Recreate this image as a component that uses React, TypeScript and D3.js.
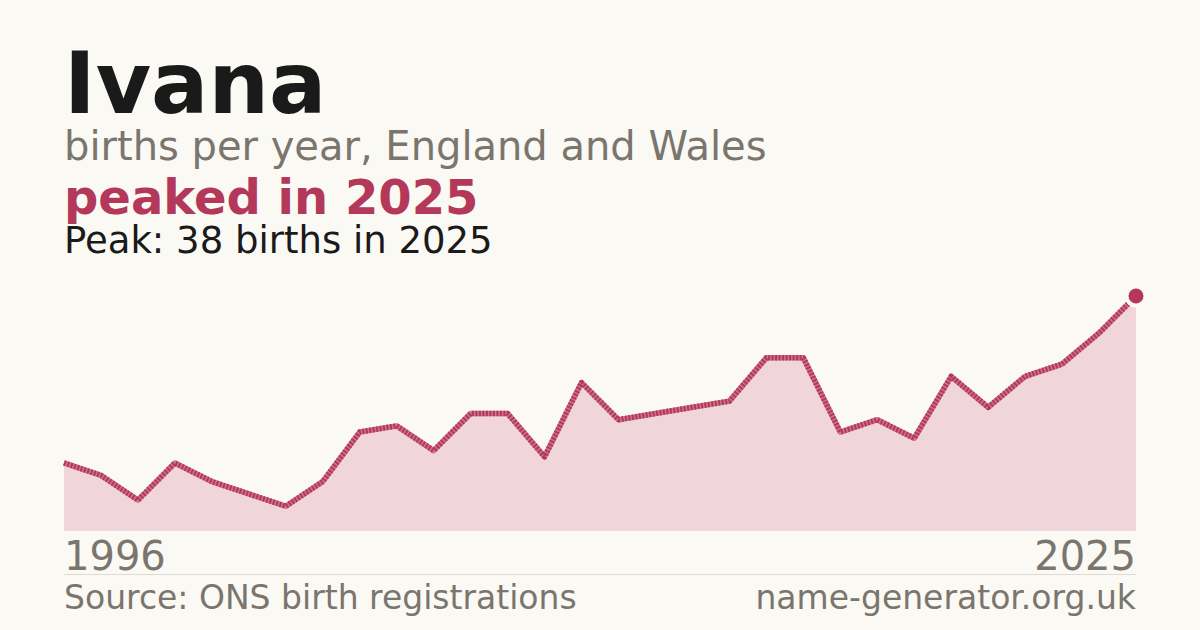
import * as d3 from "d3"

const years = [
  1996, 1997, 1998, 1999, 2000, 2001, 2002, 2003, 2004, 2005,
  2006, 2007, 2008, 2009, 2010, 2011, 2012, 2013, 2014, 2015,
  2016, 2017, 2018, 2019, 2020, 2021, 2022, 2023, 2024, 2025,
]
const births = [
  11, 9, 5, 11, 8, 6, 4, 8, 16, 17,
  13, 19, 19, 12, 24, 18, 19, 20, 21, 28,
  28, 16, 18, 15, 25, 20, 25, 27, 32, 38,
]
const axisLabels = ["1996", "2025"]

const W = 1200, H = 630
const left = 64, right = 1136
const top = 296, bottom = 531
const bg = "#faf9f4"
const red = "#b3385a"
const grey = "#7a756d"
const font = "'DejaVu Sans', sans-serif"

export default function App() {
  const x = d3.scaleLinear().domain([years[0], years[years.length - 1]]).range([left, right])
  const y = d3.scaleLinear().domain([0, d3.max(births) || 1]).range([bottom, top])
  const pts = years.map((yr, i) => [yr, births[i]] as [number, number])
  const line = d3.line<[number, number]>().x(d => x(d[0])).y(d => y(d[1]))
  const area = d3.area<[number, number]>().x(d => x(d[0])).y0(bottom).y1(d => y(d[1]))
  const peakI = d3.maxIndex(births)
  const peakYear = years[peakI]

  return (
    <svg width={W} height={H} viewBox={`0 0 ${W} ${H}`}
      style={{ position: "absolute", left: 0, top: 0, fontFamily: font }}>
      <rect width={W} height={H} fill={bg} />
      <text x={left} y={113} fontSize={85} fontWeight="bold" fill="#1a1a1a">Ivana</text>
      <text x={left} y={160} fontSize={40} fill={grey}>births per year, England and Wales</text>
      <text x={left} y={214} fontSize={48} fontWeight="bold" fill={red}>peaked in {peakYear}</text>
      <text x={left} y={253} fontSize={37} fill="#1a1a1a">Peak: {births[peakI]} births in {peakYear}</text>

      <path d={area(pts) || ""} fill="#f0d5db" />
      <path d={line(pts) || ""} fill="none" stroke="#cd7489" strokeWidth={5.5} strokeLinejoin="round" />
      <path d={line(pts) || ""} fill="none" stroke={red} strokeWidth={5.5} strokeDasharray="2 1.5" strokeLinejoin="round" />
      <circle cx={x(peakYear)} cy={y(births[peakI])} r={9.5} fill={red} stroke={bg} strokeWidth={4} />

      <text x={left} y={570} fontSize={40} fill={grey}>{axisLabels[0]}</text>
      <text x={right} y={570} fontSize={40} fill={grey} textAnchor="end">{axisLabels[1]}</text>
      <line x1={left} x2={right} y1={574.5} y2={574.5} stroke="#dedbd4" strokeWidth={1} />
      <text x={left} y={609} fontSize={33} fill={grey}>Source: ONS birth registrations</text>
      <text x={right} y={609} fontSize={33} fill={grey} textAnchor="end">name-generator.org.uk</text>
    </svg>
  )
}
